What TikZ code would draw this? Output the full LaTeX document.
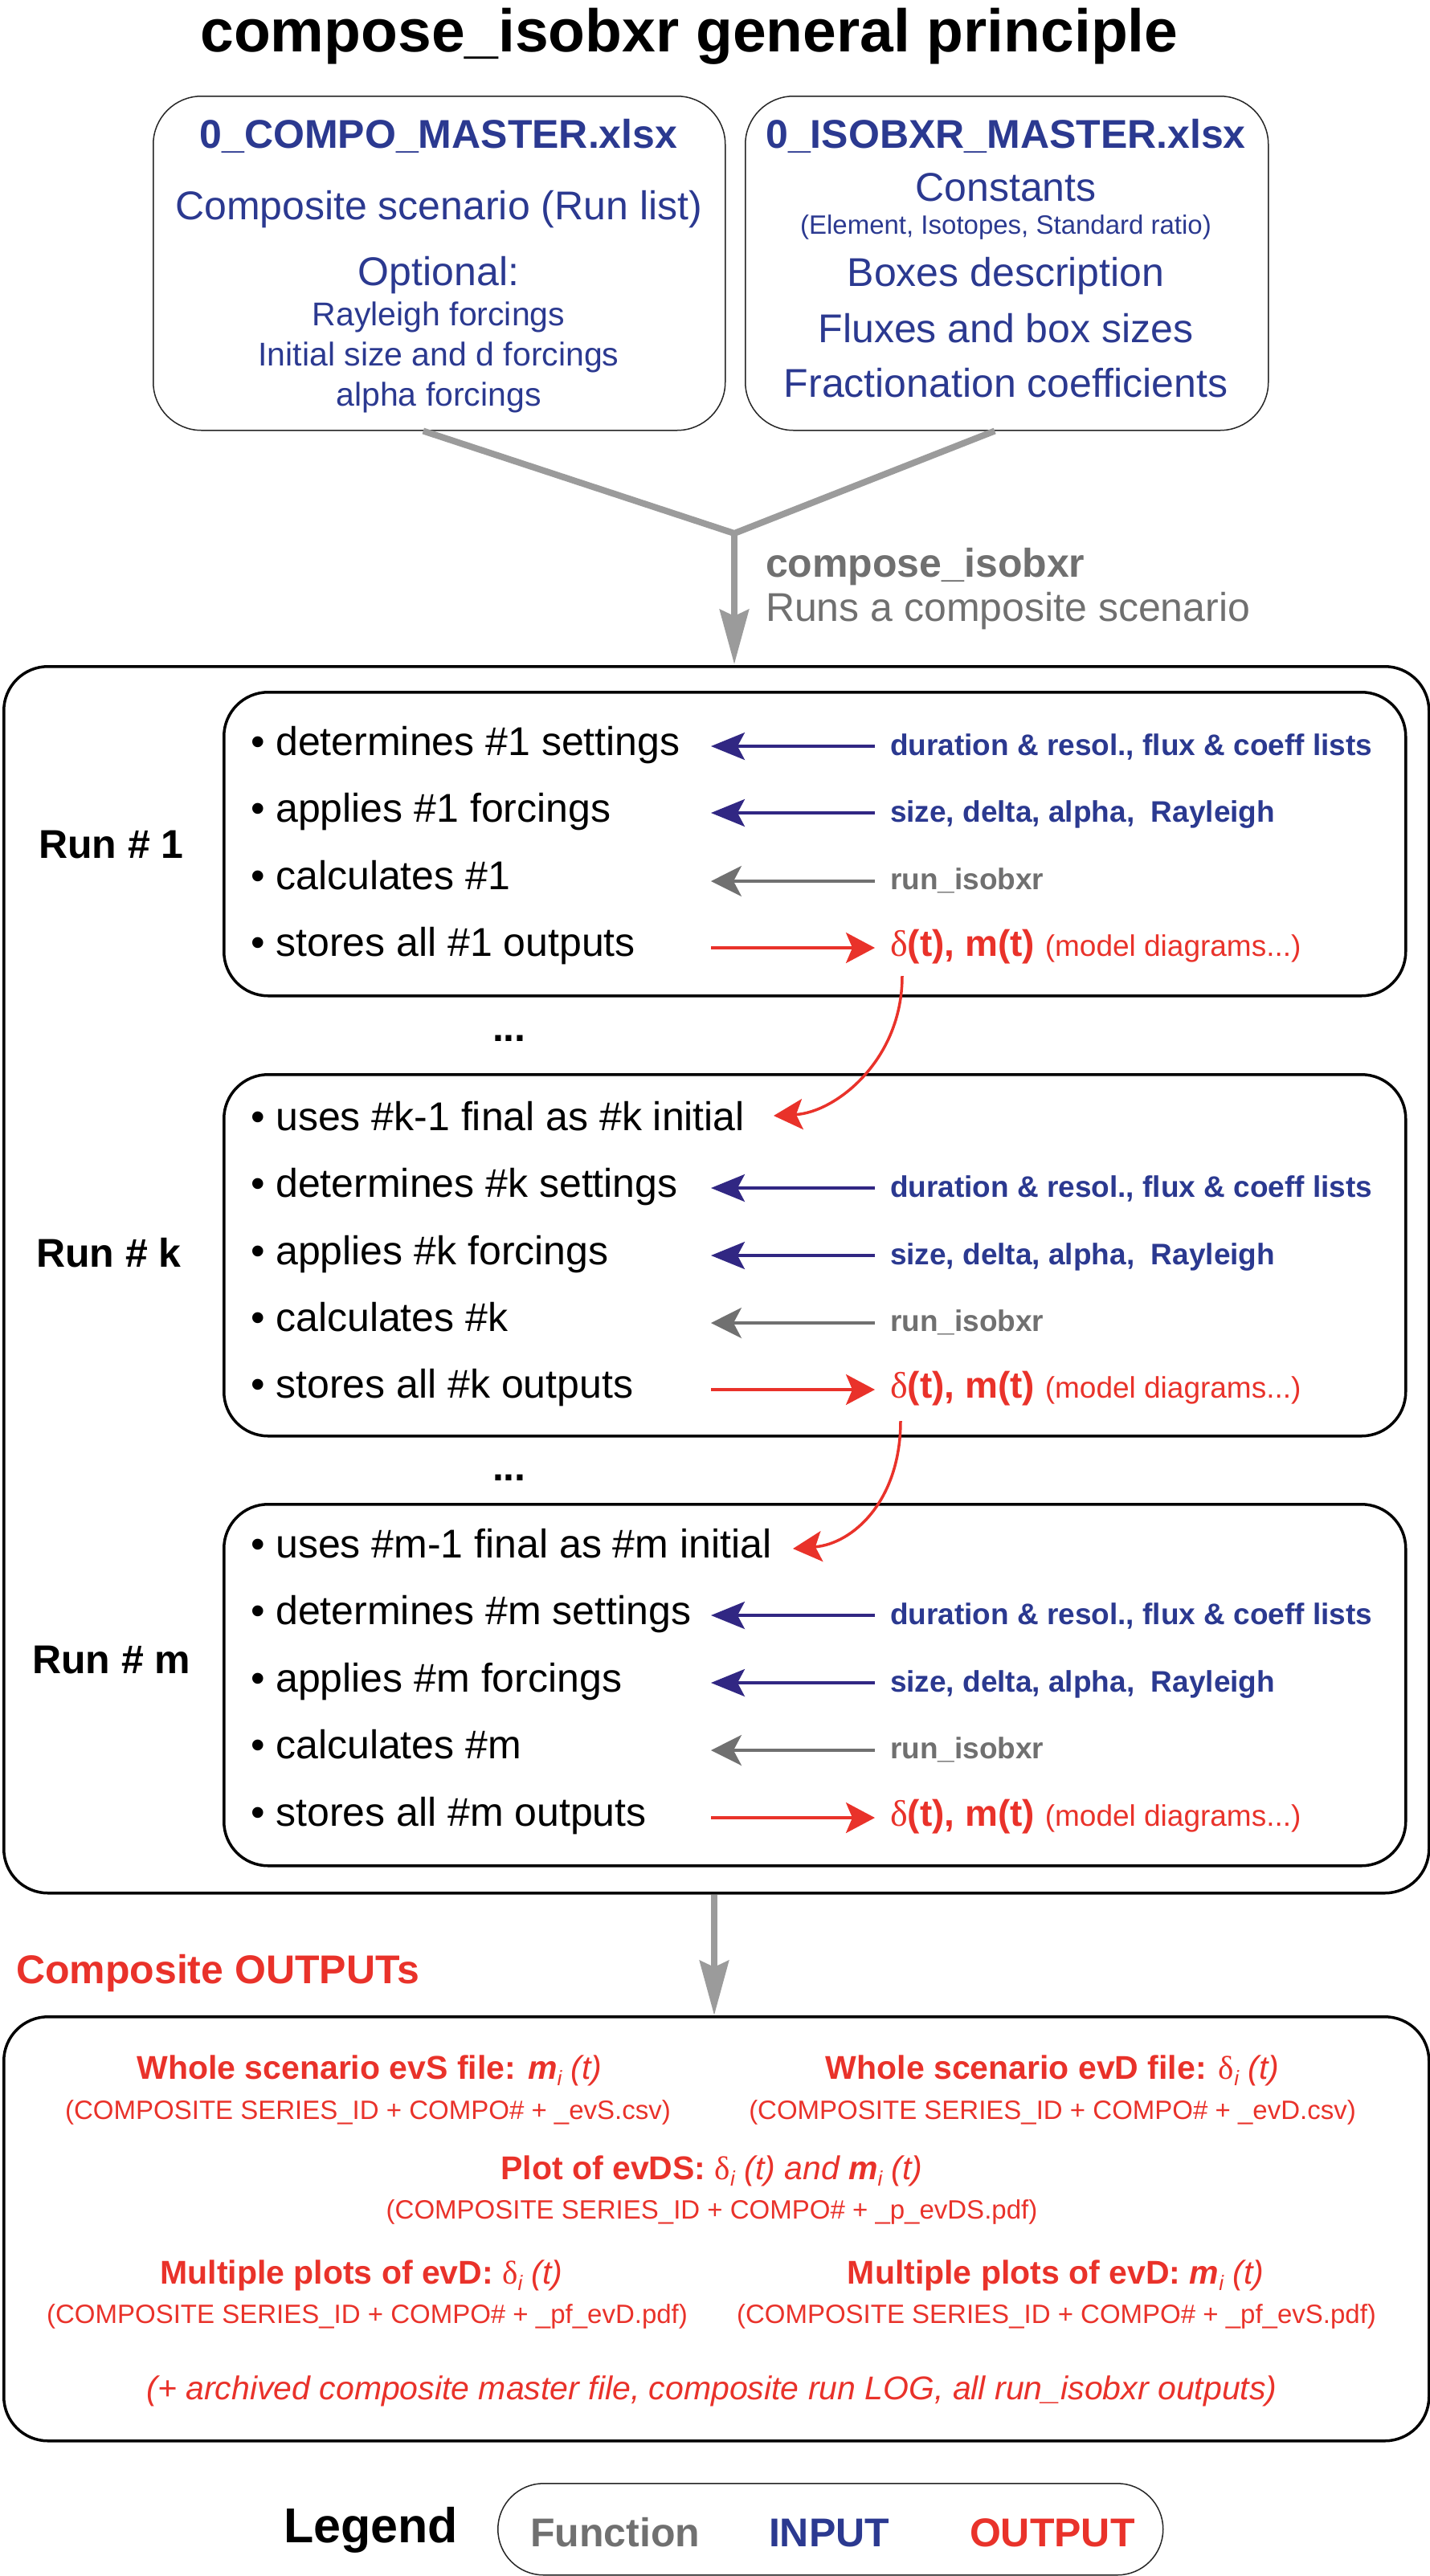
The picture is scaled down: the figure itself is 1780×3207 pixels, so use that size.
\documentclass[tikz,border=0pt]{standalone}
\usepackage{fontspec}
\setmainfont{Liberation Sans}
\newfontfamily\greekserif{Liberation Serif}
\usetikzlibrary{arrows.meta,calc}
\definecolor{cblue}{RGB}{43,57,144}
\definecolor{cbluearr}{RGB}{49,39,131}
\definecolor{cred}{RGB}{233,50,42}
\definecolor{cgray}{RGB}{112,112,112}
\definecolor{cbiggray}{RGB}{155,155,155}
\newcommand\fsz[1]{\fontsize{#1}{#1}\selectfont}
\newcommand\subi{\raisebox{-8pt}{\fsz{26}\mdseries\itshape i}}
\newcommand\dlt{{\greekserif\mdseries\upshape δ}}

\newcommand\inrow[4]{%
  \node[ltext] (#1) at (312,#2) {• #3};
  \node[intext] (#1r) at (1108,#2) {#4};
  \coordinate (#1a) at (1089,#2-11);
  \coordinate (#1b) at (885,#2-11);
  \draw[inarr] (#1a) -- (#1b);}
\newcommand\fnrow[3]{%
  \node[ltext] (#1) at (312,#2) {• #3};
  \node[fntext] (#1r) at (1108,#2) {run\_isobxr};
  \coordinate (#1a) at (1089,#2-10);
  \coordinate (#1b) at (885,#2-10);
  \draw[fnarr] (#1a) -- (#1b);}
\newcommand\outrow[3]{%
  \node[ltext] (#1) at (312,#2) {• #3};
  \node[outtext] (#1r) at (1108,#2) {\fsz{46}\dlt\textbf{(t), m(t)} {\fsz{37}(model diagrams...)}};
  \coordinate (#1a) at (885,#2-10);
  \coordinate (#1b) at (1089,#2-10);
  \draw[outarr] (#1a) -- (#1b);}

\begin{document}
\begin{tikzpicture}[x=1pt,y=-1pt,
  txt/.style={inner sep=0pt, outer sep=0pt},
  ltext/.style={txt, anchor=base west, font=\fsz{50}},
  intext/.style={txt, anchor=base west, font=\fsz{37}\bfseries, text=cblue},
  fntext/.style={txt, anchor=base west, font=\fsz{37}\bfseries, text=cgray},
  outtext/.style={txt, anchor=base west, text=cred},
  runlabel/.style={txt, anchor=base west, font=\fsz{50}\bfseries},
  runbox/.style={draw, line width=3.5pt, rounded corners=55pt, minimum width=1471pt, anchor=north west, inner sep=0pt},
  bigbox/.style={draw, line width=3.5pt, rounded corners=55pt, minimum width=1774pt, anchor=north west, inner sep=0pt},
  topbox/.style={draw=black!85, line width=1.5pt, rounded corners=60pt, minimum height=416pt, anchor=north west, inner sep=0pt},
  btext/.style={txt, anchor=base, text=cblue},
  otext/.style={txt, anchor=base, text=cred},
  inarr/.style={draw=cbluearr, line width=3.5pt, -{Stealth[length=42pt,width=34pt,inset=9pt]}},
  fnarr/.style={draw=cgray, line width=3.5pt, -{Stealth[length=38pt,width=38pt,inset=10pt]}},
  outarr/.style={draw=cred, line width=3.5pt, -{Stealth[length=36pt,width=38pt,inset=8pt]}},
  bigarr/.style={draw=cbiggray, line width=8pt}]
\useasboundingbox (0,0) rectangle (1780,3207);

% title
\node[txt, anchor=base, font=\fsz{75}\bfseries] (title) at (858,64) {compose\_isobxr general principle};

% top input boxes
\node[topbox, minimum width=712pt] (lbox) at (190,119) {};
\node[topbox, minimum width=651pt] (rbox) at (927,119) {};
\node[btext, font=\fsz{50}\bfseries] (l1) at (546,184) {0\_COMPO\_MASTER.xlsx};
\node[btext, font=\fsz{50}] (l2) at (546,273) {Composite scenario (Run list)};
\node[btext, font=\fsz{50}] (l3) at (546,355) {Optional:};
\node[btext, font=\fsz{41}] (l4) at (546,405) {Rayleigh forcings};
\node[btext, font=\fsz{41}] (l5) at (546,455) {Initial size and d forcings};
\node[btext, font=\fsz{41}] (l6) at (546,505) {alpha forcings};
\node[btext, font=\fsz{50}\bfseries] (r1) at (1252,184) {0\_ISOBXR\_MASTER.xlsx};
\node[btext, font=\fsz{50}] (r2) at (1252,250) {Constants};
\node[btext, font=\fsz{33}] (r3) at (1252,291) {(Element, Isotopes, Standard ratio)};
\node[btext, font=\fsz{50}] (r4) at (1252,356) {Boxes description};
\node[btext, font=\fsz{50}] (r5) at (1252,426) {Fluxes and box sizes};
\node[btext, font=\fsz{50}] (r6) at (1252,494) {Fractionation coefficients};

% merge arrow
\coordinate (lb) at ($(lbox.south)+(-20,0)$);
\coordinate (rb) at ($(rbox.south)+(-15,0)$);
\coordinate (j) at (914,664);
\coordinate (jt) at (914,827);
\draw[bigarr, line join=round] (lb) -- (j) -- (rb);
\draw[bigarr, -{Stealth[length=68pt,width=36pt,inset=8pt]}] (j) -- (jt);
\node[txt, anchor=base west, font=\fsz{50}\bfseries, text=cgray] (fn1) at (953,718) {compose\_isobxr};
\node[txt, anchor=base west, font=\fsz{50}, text=cgray] (fn2) at (953,773) {Runs a composite scenario};

% outer box
\node[bigbox, minimum height=1527pt] (outer) at (3,828) {};

% run 1
\node[runbox, minimum height=378pt] (box1) at (277,860) {};
\node[runlabel] (run1) at (48,1068) {Run \# 1};
\inrow{a1}{940}{determines \#1 settings}{duration \& resol., flux \& coeff lists}
\inrow{a2}{1023}{applies \#1 forcings}{size, delta, alpha,\ \ Rayleigh}
\fnrow{a3}{1107}{calculates \#1}
\outrow{a4}{1190}{stores all \#1 outputs}
\node[txt, anchor=base west, font=\fsz{50}\bfseries] (dots1) at (613,1296) {...};

% run k
\node[runbox, minimum height=450pt] (boxk) at (277,1336) {};
\node[runlabel] (runk) at (45,1577) {Run \# k};
\node[ltext] (k0) at (312,1407) {• uses \#k-1 final as \#k initial};
\inrow{k1}{1490}{determines \#k settings}{duration \& resol., flux \& coeff lists}
\inrow{k2}{1574}{applies \#k forcings}{size, delta, alpha,\ \ Rayleigh}
\fnrow{k3}{1657}{calculates \#k}
\outrow{k4}{1740}{stores all \#k outputs}
\node[txt, anchor=base west, font=\fsz{50}\bfseries] (dots2) at (613,1843) {...};

% run m
\node[runbox, minimum height=450pt] (boxm) at (277,1871) {};
\node[runlabel] (runm) at (40,2083) {Run \# m};
\node[ltext] (m0) at (312,1939) {• uses \#m-1 final as \#m initial};
\inrow{m1}{2022}{determines \#m settings}{duration \& resol., flux \& coeff lists}
\inrow{m2}{2106}{applies \#m forcings}{size, delta, alpha,\ \ Rayleigh}
\fnrow{m3}{2189}{calculates \#m}
\outrow{m4}{2273}{stores all \#m outputs}

% chaining arrows
\coordinate (c1s) at (1123,1215);
\coordinate (c1e) at (963,1389);
\draw[outarr] (c1s) .. controls (1123,1320) and (1040,1385) .. (c1e);
\coordinate (c2s) at (1121,1769);
\coordinate (c2e) at (987,1928);
\draw[outarr] (c2s) .. controls (1121,1868) and (1062,1922) .. (c2e);

% outputs
\node[txt, anchor=base west, font=\fsz{50}\bfseries, text=cred] (cout) at (20,2469) {Composite OUTPUTs};
\node[bigbox, minimum height=528pt] (obox) at (3,2509) {};
\coordinate (ax) at (889,2400);
\draw[bigarr, -{Stealth[length=68pt,width=36pt,inset=8pt]}] (outer.south -| ax) -- (obox.north -| ax);

\node[otext, font=\fsz{41}\bfseries] (o1) at (460,2588) {Whole scenario evS file: {\itshape m}\subi\ {\mdseries\itshape (t)}};
\node[otext, font=\fsz{41}\bfseries] (o2) at (1310,2588) {Whole scenario evD file: \dlt\subi\ {\mdseries\itshape (t)}};
\node[otext, font=\fsz{33}] (o3) at (458,2638) {(COMPOSITE SERIES\_ID + COMPO\# + \_evS.csv)};
\node[otext, font=\fsz{33}] (o4) at (1310,2638) {(COMPOSITE SERIES\_ID + COMPO\# + \_evD.csv)};
\node[otext, font=\fsz{41}\bfseries] (o5) at (886,2713) {Plot of evDS: \dlt\subi\ {\mdseries\itshape (t) and} {\itshape m}\subi\ {\mdseries\itshape (t)}};
\node[otext, font=\fsz{33}] (o6) at (886,2762) {(COMPOSITE SERIES\_ID + COMPO\# + \_p\_evDS.pdf)};
\node[otext, font=\fsz{41}\bfseries] (o7) at (450,2843) {Multiple plots of evD: \dlt\subi\ {\mdseries\itshape (t)}};
\node[otext, font=\fsz{41}\bfseries] (o8) at (1314,2843) {Multiple plots of evD: {\itshape m}\subi\ {\mdseries\itshape (t)}};
\node[otext, font=\fsz{33}] (o9) at (457,2892) {(COMPOSITE SERIES\_ID + COMPO\# + \_pf\_evD.pdf)};
\node[otext, font=\fsz{33}] (o10) at (1315,2892) {(COMPOSITE SERIES\_ID + COMPO\# + \_pf\_evS.pdf)};
\node[otext, font=\fsz{41}\itshape] (o11) at (886,2987) {(+ archived composite master file, composite run LOG, all run\_isobxr outputs)};

% legend
\node[txt, anchor=base west, font=\fsz{61}\bfseries] (leg) at (353,3165) {Legend};
\node[draw=black!85, line width=1.5pt, rounded corners=57pt, minimum width=828pt, minimum height=114pt, anchor=north west, inner sep=0pt] (legbox) at (619,3091) {};
\node[txt, anchor=base west, font=\fsz{50}\bfseries, text=cgray] (lf) at (660,3170) {Function};
\node[txt, anchor=base west, font=\fsz{50}\bfseries, text=cblue] (li) at (957,3170) {INPUT};
\node[txt, anchor=base west, font=\fsz{50}\bfseries, text=cred] (lo) at (1207,3170) {OUTPUT};
\end{tikzpicture}
\end{document}
